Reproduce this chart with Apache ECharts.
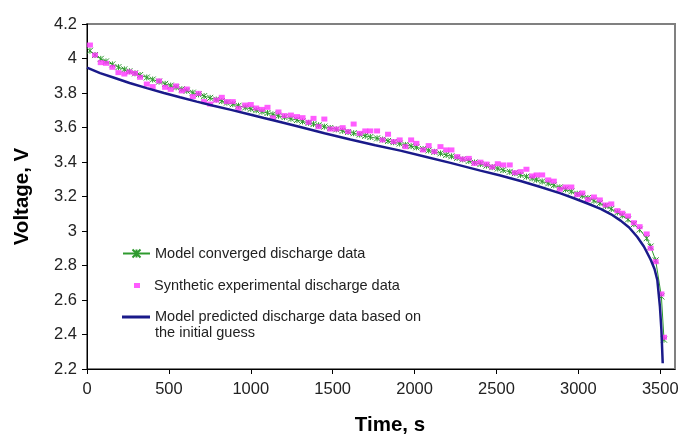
<!DOCTYPE html>
<html>
<head>
<meta charset="utf-8">
<script src="https://cdn.jsdelivr.net/npm/echarts@6/dist/echarts.min.js"></script>
<style>
html, body { margin: 0; padding: 0; background: #fff; }
#chart { width: 681px; height: 434px; }
</style>
</head>
<body>
<div id="chart"></div>
<script>
// sample times (s) shared by the synthetic points and the converged model
var TIME = [18, 49, 84, 116, 155, 192, 228, 259, 293, 324,
    365, 401, 440, 477, 511, 544, 579, 609, 646, 681,
    715, 752, 789, 823, 854, 890, 925, 966, 1000, 1033,
    1068, 1102, 1135, 1169, 1206, 1245, 1282, 1316, 1353, 1383,
    1414, 1449, 1485, 1522, 1561, 1594, 1628, 1665, 1699, 1730,
    1771, 1805, 1838, 1872, 1909, 1944, 1979, 2011, 2052, 2086,
    2121, 2158, 2193, 2225, 2260, 2294, 2331, 2366, 2402, 2439,
    2474, 2508, 2541, 2581, 2612, 2647, 2683, 2718, 2745, 2779,
    2816, 2850, 2887, 2922, 2957, 2993, 3024, 3058, 3095, 3131,
    3166, 3201, 3238, 3268, 3303, 3339, 3374, 3417, 3441, 3472,
    3507, 3523];

var SYNTHETIC = [4.078, 4.020, 3.976, 3.972, 3.949, 3.918, 3.910, 3.922, 3.914, 3.891,
    3.852, 3.837, 3.870, 3.833, 3.821, 3.841, 3.812, 3.823, 3.779, 3.798,
    3.750, 3.736, 3.759, 3.775, 3.750, 3.750, 3.711, 3.730, 3.733, 3.713,
    3.705, 3.717, 3.656, 3.690, 3.669, 3.672, 3.663, 3.657, 3.630, 3.653,
    3.605, 3.649, 3.591, 3.591, 3.599, 3.576, 3.620, 3.566, 3.580, 3.580,
    3.580, 3.528, 3.561, 3.518, 3.528, 3.489, 3.528, 3.508, 3.470, 3.495,
    3.460, 3.489, 3.470, 3.470, 3.431, 3.417, 3.421, 3.392, 3.399, 3.388,
    3.371, 3.390, 3.383, 3.383, 3.338, 3.344, 3.358, 3.319, 3.325, 3.325,
    3.296, 3.289, 3.242, 3.255, 3.255, 3.211, 3.220, 3.182, 3.197, 3.180,
    3.151, 3.157, 3.118, 3.103, 3.087, 3.048, 3.025, 2.983, 2.900, 2.822,
    2.635, 2.384];

var CONVERGED = [4.045, 4.020, 3.998, 3.983, 3.966, 3.950, 3.937, 3.926, 3.914, 3.904,
    3.890, 3.878, 3.866, 3.853, 3.843, 3.833, 3.822, 3.813, 3.802, 3.792,
    3.782, 3.772, 3.762, 3.753, 3.744, 3.735, 3.726, 3.716, 3.708, 3.700,
    3.692, 3.684, 3.676, 3.668, 3.660, 3.651, 3.643, 3.635, 3.627, 3.620,
    3.613, 3.605, 3.597, 3.589, 3.581, 3.574, 3.567, 3.559, 3.552, 3.545,
    3.537, 3.530, 3.522, 3.515, 3.507, 3.499, 3.492, 3.485, 3.475, 3.467,
    3.459, 3.450, 3.441, 3.433, 3.424, 3.415, 3.406, 3.397, 3.388, 3.379,
    3.370, 3.362, 3.353, 3.343, 3.335, 3.325, 3.315, 3.305, 3.297, 3.287,
    3.276, 3.265, 3.253, 3.241, 3.229, 3.216, 3.204, 3.191, 3.176, 3.161,
    3.145, 3.128, 3.108, 3.090, 3.067, 3.040, 3.008, 2.958, 2.910, 2.830,
    2.620, 2.370];

// model prediction from the initial guess
var GUESS_TIME = [0, 80, 161, 260, 365, 470, 568, 670, 772, 880,
    976, 1080, 1180, 1302, 1450, 1608, 1760, 1913, 2060, 2219,
    2402, 2524, 2647, 2769, 2891, 2973, 3060, 3136, 3200, 3258,
    3310, 3360, 3400, 3441, 3465, 3482, 3498, 3507, 3515];
var GUESS = [3.947, 3.915, 3.890, 3.858, 3.828, 3.800, 3.775, 3.750, 3.726, 3.702,
    3.680, 3.655, 3.632, 3.603, 3.567, 3.530, 3.497, 3.466, 3.432, 3.395,
    3.350, 3.322, 3.290, 3.255, 3.218, 3.190, 3.158, 3.128, 3.097, 3.060,
    3.020, 2.965, 2.910, 2.835, 2.780, 2.716, 2.561, 2.426, 2.233];

var X_TICKS = [0, 500, 1000, 1500, 2000, 2500, 3000, 3500];

function pairs(xs, ys) {
    return xs.map(function (x, i) { return [x, ys[i]]; });
}

var FONT = 'Liberation Sans, Arial, sans-serif';
var NAME_CONV = 'Model converged discharge data';
var NAME_SYN = 'Synthetic experimental discharge data';
var NAME_GUESS = 'Model predicted discharge data based on\nthe initial guess';
var GREEN = '#2e9a2e', PINK = '#ff33ff', NAVY = '#1a1a8a';

var legendText = { fontFamily: FONT, fontSize: 14.5, color: '#222', lineHeight: 17 };

var chart = echarts.init(document.getElementById('chart'));
chart.setOption({
    animation: false,
    grid: {
        left: 87, right: 6, top: 24, bottom: 65,
        outerBoundsMode: 'none',
        show: true, borderColor: '#808080', borderWidth: 2
    },
    legend: [
        {
            left: 122, top: 245, padding: 0,
            itemWidth: 27, itemHeight: 10,
            textStyle: legendText,
            data: [NAME_CONV]
        },
        {
            left: 134, top: 277, padding: 0,
            itemWidth: 6, itemHeight: 5,
            textStyle: Object.assign({ padding: [0, 0, 0, 9] }, legendText),
            data: [NAME_SYN]
        },
        {
            // line sits at the top of the icon box so it lines up with the first text line
            left: 122, top: 309, padding: 0,
            itemWidth: 28, itemHeight: 19,
            icon: 'path://M0,0L28,0L28,3L0,3ZM0,18.9L0.1,18.9L0.1,19L0,19Z',
            textStyle: { fontFamily: FONT, fontSize: 14.5, color: '#222', lineHeight: 16 },
            data: [NAME_GUESS]
        }
    ],
    xAxis: {
        type: 'value',
        min: 0, max: 3590,
        name: 'Time, s',
        nameLocation: 'middle',
        nameGap: 46,
        nameTextStyle: { fontFamily: FONT, fontSize: 20.5, fontWeight: 'bold', color: '#000', padding: [0, 0, 0, 18] },
        axisLine: { lineStyle: { color: '#000', width: 1 } },
        axisTick: { customValues: X_TICKS, length: 5, lineStyle: { color: '#000' } },
        axisLabel: {
            customValues: X_TICKS, margin: 12,
            fontFamily: FONT, fontSize: 16.5, color: '#222',
            formatter: function (v) { return String(v); }
        },
        splitLine: { show: false }
    },
    yAxis: {
        type: 'value',
        min: 2.2, max: 4.2, interval: 0.2,
        name: 'Voltage, V',
        nameLocation: 'middle',
        nameRotate: 90,
        nameGap: 54,
        nameTextStyle: { fontFamily: FONT, fontSize: 20.5, fontWeight: 'bold', color: '#000' },
        axisLine: { show: true, lineStyle: { color: '#000', width: 1 } },
        axisTick: { show: true, length: 5, lineStyle: { color: '#000' } },
        axisLabel: { margin: 10, fontFamily: FONT, fontSize: 16.5, color: '#222' },
        splitLine: { show: false }
    },
    series: [
        {
            name: NAME_CONV,
            type: 'line',
            data: pairs(TIME, CONVERGED),
            symbol: 'path://M0,0L10,10M10,0L0,10M5,0L5,10',
            symbolSize: 6,
            showSymbol: true,
            lineStyle: { color: GREEN, width: 1 },
            itemStyle: { color: GREEN, borderColor: GREEN, borderWidth: 1 },
            z: 2
        },
        {
            name: NAME_SYN,
            type: 'scatter',
            data: pairs(TIME, SYNTHETIC),
            symbol: 'rect',
            symbolSize: [6, 5],
            itemStyle: { color: PINK },
            z: 3
        },
        {
            name: NAME_GUESS,
            type: 'line',
            data: pairs(GUESS_TIME, GUESS),
            symbol: 'none',
            lineStyle: { color: NAVY, width: 2.5 },
            itemStyle: { color: NAVY },
            z: 4
        }
    ]
});
</script>
</body>
</html>
